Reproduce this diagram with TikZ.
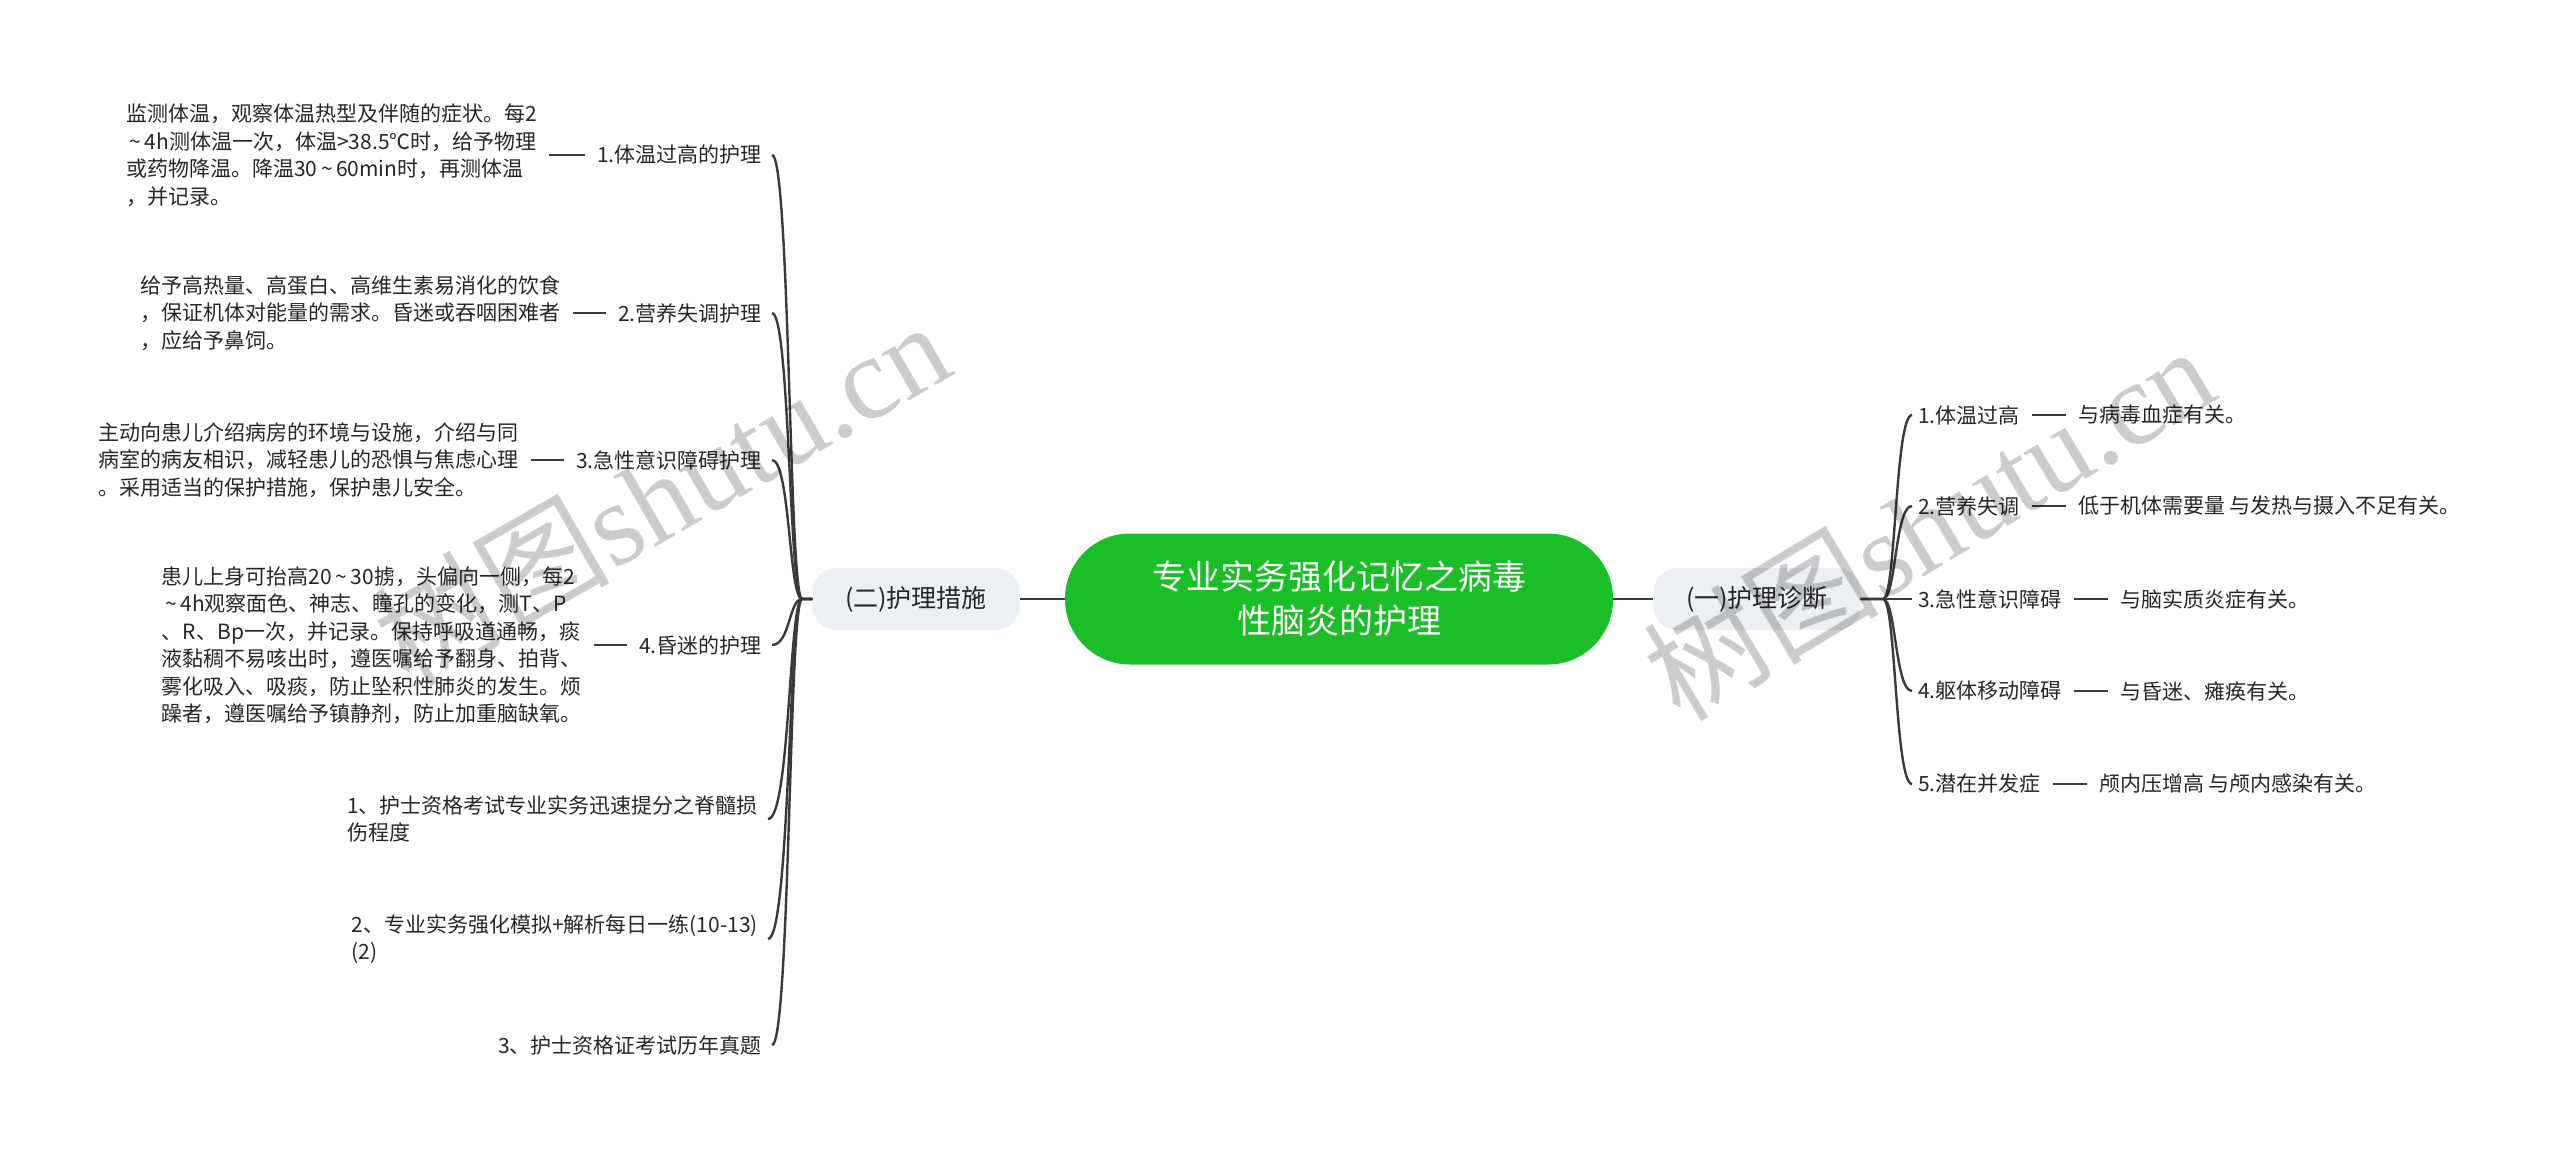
\documentclass[tikz,border=0pt]{standalone}
\usepackage{fontspec}
\setmainfont{Noto Sans CJK SC}
\newfontfamily\wmfont{Liberation Serif}
\newfontfamily\wmcjk{Noto Sans CJK SC}
\usetikzlibrary{positioning}
\definecolor{rootgreen}{RGB}{26,190,38}
\definecolor{subgray}{RGB}{236,239,243}
\definecolor{linegray}{RGB}{58,58,58}
\definecolor{txt}{RGB}{38,38,38}
\newcommand{\tl}{\,\textasciitilde\,}
\begin{document}
\begin{tikzpicture}[x=1pt,y=-1pt,
  conn/.style={draw=linegray, line width=2.4pt},
  short/.style={conn, shorten <=12pt, shorten >=12pt},
  leaf/.style={font=\fontsize{21}{27.5}\selectfont, text=txt, inner sep=0pt, align=left},
  rootnode/.style={fill=rootgreen, text=white, rounded corners=65pt, minimum width=548pt, minimum height=131pt, align=center, inner sep=0pt, font=\fontsize{34}{44}\selectfont},
  subnode/.style={fill=subgray, text=txt, rounded corners=24pt, minimum width=207pt, minimum height=62pt, inner sep=0pt, font=\fontsize{25}{30}\selectfont},
  wm/.style={text=black, text opacity=0.2, inner sep=0pt, font=\fontsize{118}{120}\selectfont\wmfont}
]
\useasboundingbox (0,0) rectangle (2560,1158);

% root and main branches
\node[rootnode] (root) at (1339,599) {专业实务强化记忆之病毒\\性脑炎的护理};
\node[subnode] (lnode) at (916,599) {(二)护理措施};
\node[subnode] (rnode) at (1757,599) {(一)护理诊断};
\draw[conn] (root.west) -- (lnode.east);
\draw[conn] (root.east) -- (rnode.west);

% left labels
\node[leaf, anchor=east] (L1) at (762,155) {1.体温过高的护理};
\node[leaf, anchor=east] (L2) at (762,313) {2.营养失调护理};
\node[leaf, anchor=east] (L3) at (762,460) {3.急性意识障碍护理};
\node[leaf, anchor=east] (L4) at (762,645) {4.昏迷的护理};
\node[leaf, anchor=east] (L5) at (758,819) {1、护士资格考试专业实务迅速提分之脊髓损\\伤程度};
\node[leaf, anchor=east] (L6) at (758,939) {2、专业实务强化模拟+解析每日一练(10-13)\\(2)};
\node[leaf, anchor=east] (L7) at (762,1045) {3、护士资格证考试历年真题};

% left details
\node[leaf, left=60pt of L1] (D1) {监测体温，观察体温热型及伴随的症状。每2\\\tl 4h测体温一次，体温>38.5℃时，给予物理\\或药物降温。降温30\tl 60min时，再测体温\\，并记录。};
\node[leaf, left=57pt of L2] (D2) {给予高热量、高蛋白、高维生素易消化的饮食\\，保证机体对能量的需求。昏迷或吞咽困难者\\，应给予鼻饲。};
\node[leaf, left=57pt of L3] (D3) {主动向患儿介绍病房的环境与设施，介绍与同\\病室的病友相识，减轻患儿的恐惧与焦虑心理\\。采用适当的保护措施，保护患儿安全。};
\node[leaf, left=57pt of L4] (D4) {患儿上身可抬高20\tl 30掳，头偏向一侧，每2\\\tl 4h观察面色、神志、瞳孔的变化，测T、P\\、R、Bp一次，并记录。保持呼吸道通畅，痰\\液黏稠不易咳出时，遵医嘱给予翻身、拍背、\\雾化吸入、吸痰，防止坠积性肺炎的发生。烦\\躁者，遵医嘱给予镇静剂，防止加重脑缺氧。};

\foreach \n in {1,2,3,4} {
  \draw[short] (L\n.west) -- (D\n.east |- L\n.west);
}
\foreach \n in {L1,L2,L3,L4,L5,L6,L7} {
  \draw[conn] (lnode.west) -- (802,599) .. controls (789,599) and (790,0 |- \n.east) .. ([xshift=10pt]\n.east);
}

% right labels
\node[leaf, anchor=west] (R1) at (1918,415) {1.体温过高};
\node[leaf, anchor=west] (R2) at (1918,506) {2.营养失调};
\node[leaf, anchor=west] (R3) at (1918,599) {3.急性意识障碍};
\node[leaf, anchor=west] (R4) at (1918,691) {4.躯体移动障碍};
\node[leaf, anchor=west] (R5) at (1918,784) {5.潜在并发症};

% right details
\node[leaf, right=58pt of R1] (E1) {与病毒血症有关。};
\node[leaf, right=58pt of R2] (E2) {低于机体需要量 与发热与摄入不足有关。};
\node[leaf, right=58pt of R3] (E3) {与脑实质炎症有关。};
\node[leaf, right=58pt of R4] (E4) {与昏迷、瘫痪有关。};
\node[leaf, right=58pt of R5] (E5) {颅内压增高 与颅内感染有关。};

\foreach \n in {1,2,3,4,5} {
  \draw[short] (R\n.east) -- (E\n.west |- R\n.east);
}
\foreach \n in {R1,R2,R4,R5} {
  \draw[conn] (rnode.east) -- (1883,599) .. controls (1896,599) and (1895,0 |- \n.west) .. ([xshift=-6pt]\n.west);
}
\draw[conn] (rnode.east) -- ([xshift=-6pt]R3.west);

% watermarks
\node[wm, rotate=30] (wm1) at (661,492) {{\wmcjk 树图}shutu.cn};
\node[wm, rotate=31] (wm2) at (1928,522) {{\wmcjk 树图}shutu.cn};
\end{tikzpicture}
\end{document}
